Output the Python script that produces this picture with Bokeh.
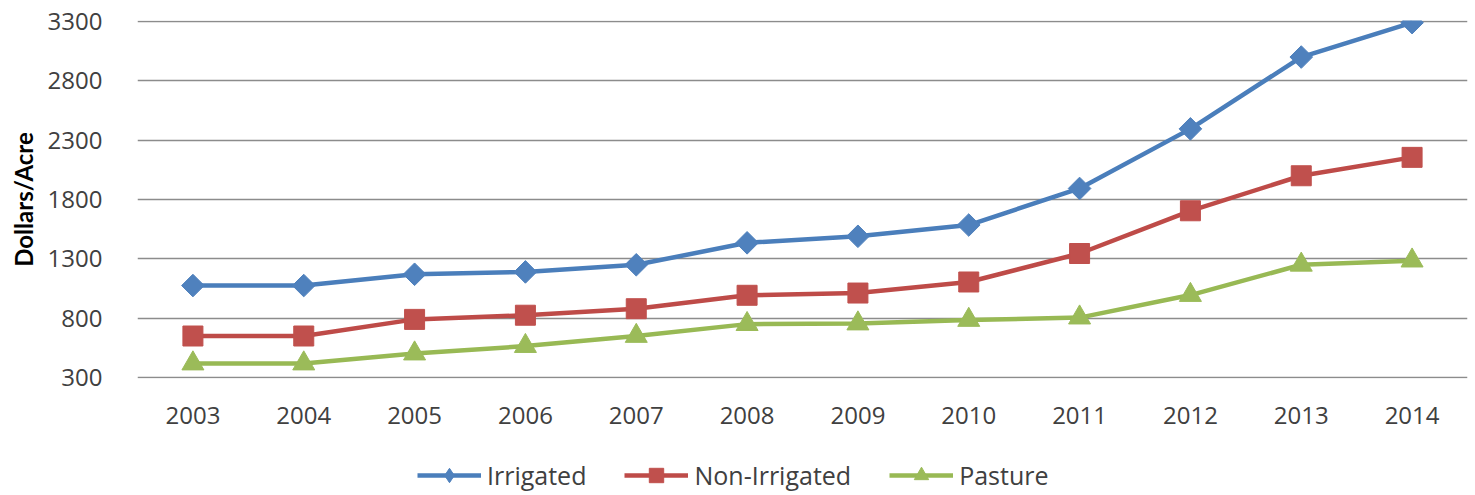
import numpy as np
from bokeh.plotting import figure
from bokeh.layouts import column
from bokeh.models import Range1d, FixedTicker, Legend, LegendItem, ColumnDataSource
from bokeh.embed import file_html
from bokeh.resources import INLINE

years = ["2003", "2004", "2005", "2006", "2007", "2008", "2009", "2010", "2011", "2012", "2013", "2014"]
irrigated = [1075, 1075, 1170, 1190, 1250, 1435, 1490, 1585, 1893, 2395, 3000, 3290]
non_irrigated = [650, 650, 790, 825, 880, 993, 1012, 1105, 1345, 1705, 2000, 2155]
pasture = [418, 418, 502, 565, 650, 750, 755, 785, 805, 995, 1250, 1285]
y_ticks = [300, 800, 1300, 1800, 2300, 2800, 3300]
y_title = "Dollars/Acre"

p = figure(x_range=years, y_range=Range1d(292, 3308), width=1475, height=455,
           output_backend="svg", toolbar_location=None,
           min_border_left=137, min_border_right=8, min_border_top=20, min_border_bottom=77)
p.outline_line_color = None
p.background_fill_color = "white"

# legend strip below the chart; its series lie outside its visible range,
# so only the legend entries show
lg = figure(width=1475, height=40, x_range=p.x_range, y_range=Range1d(0, 1),
            output_backend="svg", toolbar_location=None,
            x_axis_type=None, y_axis_type=None,
            min_border_left=0, min_border_right=0, min_border_top=0, min_border_bottom=0)
lg.outline_line_color = None
lg.xgrid.grid_line_color = None
lg.ygrid.grid_line_color = None

src = ColumnDataSource(dict(x=years, irr=irrigated, non=non_irrigated, pas=pasture))

series = [
    ("Irrigated", "irr", "#4A7EBB", "#4F81BD", "square", 16, np.pi / 4, "diamond"),
    ("Non-Irrigated", "non", "#BE4B48", "#C0504D", "square", 20, 0, "square"),
    ("Pasture", "pas", "#98B954", "#9BBB59", "triangle", 22, 0, "triangle"),
]
items = []
for label, col, lc, mc, marker, size, ang, lmarker in series:
    p.line("x", col, source=src, line_color=lc, line_width=4.5)
    p.scatter("x", col, source=src, marker=marker, size=size, angle=ang,
              fill_color=mc, line_color=mc)
    l1 = lg.line("x", col, source=src, line_color=lc, line_width=4.5)
    l2 = lg.scatter("x", col, source=src, marker=lmarker, size=size,
                    fill_color=mc, line_color=mc)
    items.append(LegendItem(label=label, renderers=[l1, l2]))

p.yaxis.ticker = FixedTicker(ticks=y_ticks)
p.ygrid.ticker = FixedTicker(ticks=y_ticks)
p.ygrid.grid_line_color = "#8C8C8C"
p.ygrid.grid_line_width = 1.5
p.xgrid.grid_line_color = None

for ax in (p.xaxis[0], p.yaxis[0]):
    ax.axis_line_color = None
    ax.major_tick_line_color = None
    ax.minor_tick_line_color = None
    ax.major_label_text_font = "Open Sans"
    ax.major_label_text_font_size = "24px"
    ax.major_label_text_color = "#404040"

p.xaxis.major_label_standoff = 22

p.yaxis.major_label_standoff = 29
p.yaxis.axis_label = y_title
p.yaxis.axis_label_text_font = "Lato"
p.yaxis.axis_label_text_font_style = "bold"
p.yaxis.axis_label_text_font_size = "24px"
p.yaxis.axis_label_text_color = "#000000"
p.yaxis.axis_label_standoff = 7

legend = Legend(items=items, orientation="horizontal", location=(280, 2),
                glyph_width=64, glyph_height=36, label_standoff=6, spacing=38,
                padding=0, margin=0, border_line_color=None, background_fill_alpha=0,
                label_text_font="Open Sans", label_text_font_size="25px",
                label_text_color="#404040")
lg.add_layout(legend, "center")

page = column(p, lg, spacing=0)
open("out.html", "w").write(file_html(page, INLINE))
